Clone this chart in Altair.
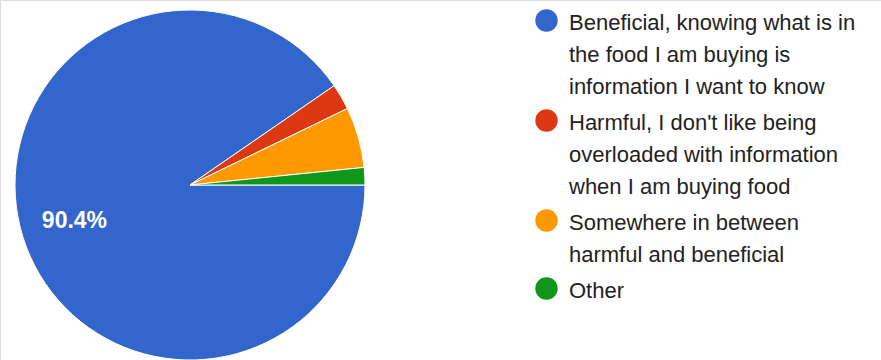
import altair as alt
import pandas as pd

categories = [
    "Beneficial, knowing what is in|the food I am buying is|information I want to know",
    "Harmful, I don't like being|overloaded with information|when I am buying food",
    "Somewhere in between|harmful and beneficial",
    "Other",
]
counts = [113, 3, 7, 2]
colors = ["#3366CC", "#DC3912", "#FF9900", "#109618"]
labels = ["90.4%", "", "", ""]

df = pd.DataFrame({
    "cat": categories,
    "count": counts,
    "idx": list(range(len(categories))),
    "label": labels,
})

PI = 3.141592653589793
theta_scale = alt.Scale(range=[PI / 2, PI / 2 + 2 * PI])

base = alt.Chart(df).encode(
    theta=alt.Theta("count:Q", stack=True, scale=theta_scale),
    order=alt.Order("idx:Q"),
    x=alt.value(190),
    y=alt.value(185),
)

arcs = base.mark_arc(outerRadius=175, stroke="white", strokeWidth=1).encode(
    color=alt.Color(
        "cat:N",
        scale=alt.Scale(domain=categories, range=colors),
        sort=categories,
        legend=alt.Legend(
            title=None,
            orient="none",
            legendX=535,
            legendY=9,
            symbolType="circle",
            symbolSize=500,
            symbolStrokeWidth=0,
            labelOffset=11,
            labelFont="Liberation Sans",
            labelFontSize=22,
            labelColor="#222222",
            labelLimit=400,
            labelBaseline="top",
            rowPadding=11,
            padding=0,
            labelExpr="split(datum.label, '|')",
        ),
    )
)

text = base.mark_text(
    radius=121,
    font="Liberation Sans",
    fontSize=23,
    fontWeight="bold",
    color="white",
).encode(text="label:N")

chart = (
    alt.layer(arcs, text)
    .properties(width=881, height=360, autosize=alt.AutoSizeParams(type="none"), padding=0)
    .configure_view(stroke=None)
    .configure(style={"guide-label": {"lineHeight": 32, "dy": -8}})
)

chart.save("out.html", embed_options={"renderer": "svg", "actions": False})
